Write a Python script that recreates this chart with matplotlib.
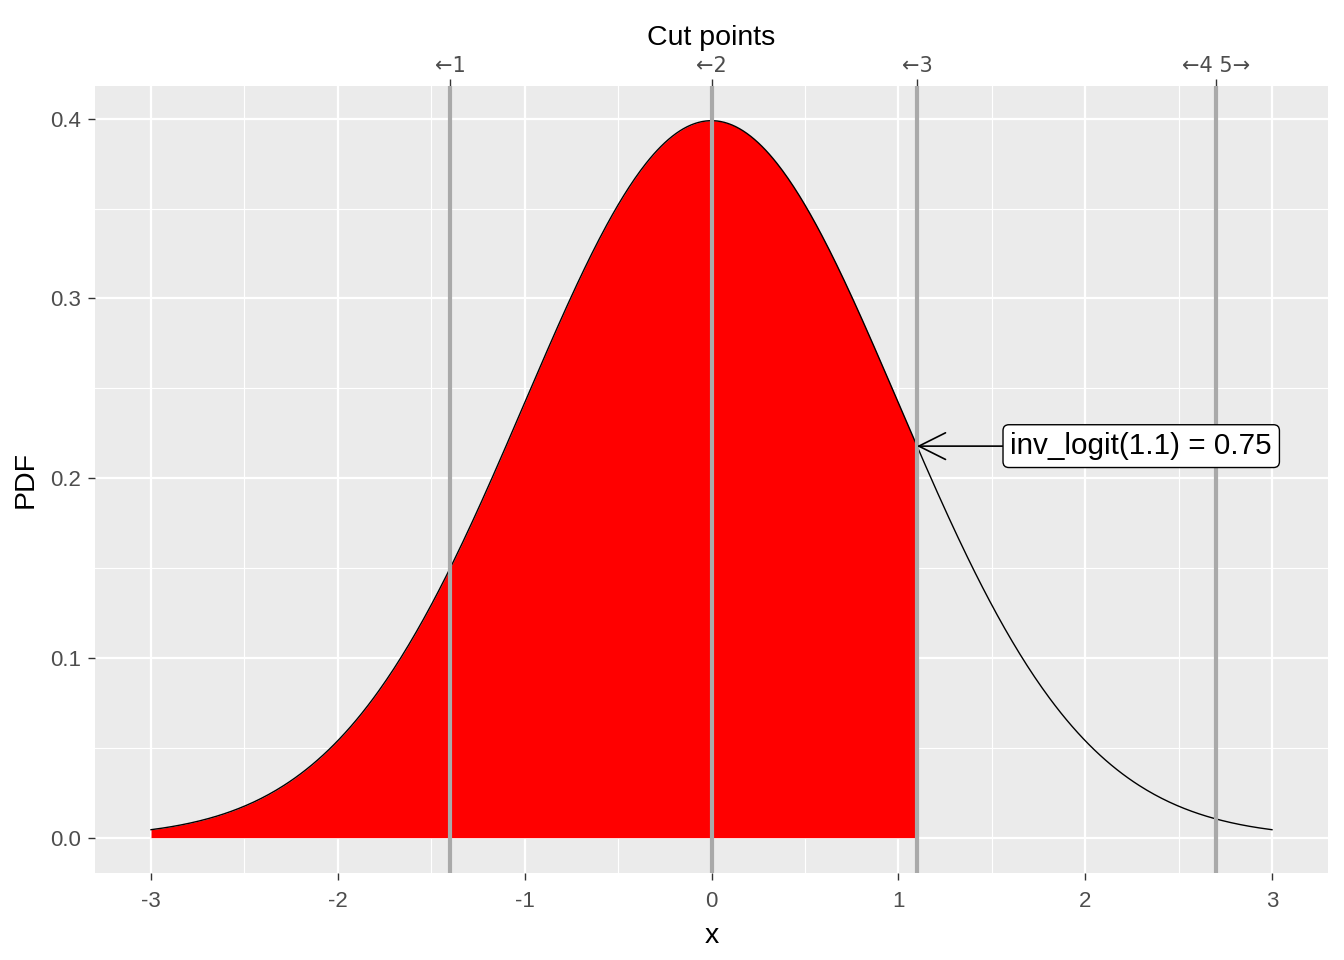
import matplotlib
matplotlib.use("Agg")
import matplotlib.pyplot as plt
import numpy as np

plt.rcParams['font.family'] = ['Liberation Sans', 'DejaVu Sans']

# distribution and cut points
mu = 0.0
sigma = 1.0
x_min, x_max = -3.0, 3.0
eta = 1.1
cut_points = [-1.4, 0.0, 1.1, 2.7]
cut_labels = ["\u21901", "\u21902", "\u21903", "\u21904 5\u2192"]
x_ticks = [-3, -2, -1, 0, 1, 2, 3]
y_ticks = [0.0, 0.1, 0.2, 0.3, 0.4]
annot_label = "inv_logit(1.1) = 0.75"


def dnorm(x):
    return np.exp(-0.5 * ((x - mu) / sigma) ** 2) / (sigma * np.sqrt(2 * np.pi))


xs = np.linspace(x_min, x_max, 601)
ys = dnorm(xs)
xf = np.linspace(x_min, eta, 500)
yf = dnorm(xf)

fig = plt.figure(figsize=(13.44, 9.6), dpi=100)
ax = fig.add_axes([95 / 1344, 87.3 / 960, (1328 - 95) / 1344, 787 / 960])
ax.set_facecolor("#EBEBEB")

ax.set_xlim(-3.3, 3.3)
ax.set_ylim(-0.0195, 0.4184)

# grid
for v in np.arange(-2.5, 3.0, 1.0):
    ax.axvline(v, color="white", lw=0.8, zorder=0)
for v in np.arange(0.05, 0.4, 0.1):
    ax.axhline(v, color="white", lw=0.8, zorder=0)
for v in x_ticks:
    ax.axvline(v, color="white", lw=1.6, zorder=0)
for v in y_ticks:
    ax.axhline(v, color="white", lw=1.6, zorder=0)

ax.fill_between(xf, 0, yf, color="red", lw=0, zorder=1)
ax.plot(xs, ys, color="black", lw=1.0, zorder=2)

for c in cut_points:
    ax.axvline(c, color="#A9A9A9", lw=3.0, zorder=3)

ax.annotate(annot_label, xy=(eta, dnorm(eta)), xytext=(1.6, dnorm(eta)),
            fontsize=21.3, ha="left", va="center",
            bbox=dict(boxstyle="round,pad=0.25,rounding_size=0.2", fc="white", ec="black", lw=1.0),
            arrowprops=dict(arrowstyle="->,head_length=0.9,head_width=0.45", color="black", lw=1.2,
                            shrinkA=0, shrinkB=0),
            zorder=5)

for s in ax.spines.values():
    s.set_visible(False)

ax.set_xticks(x_ticks)
ax.set_xticklabels([str(t) for t in x_ticks])
ax.set_yticks(y_ticks)
ax.set_yticklabels([f"{t:.1f}" for t in y_ticks])
ax.tick_params(axis="x", colors="#333333", length=5, width=1.0, labelsize=16,
               labelcolor="#4D4D4D", pad=8)
ax.tick_params(axis="y", colors="#333333", length=5, width=1.0, labelsize=16,
               labelcolor="#4D4D4D", pad=5)

ax.set_xlabel("x", fontsize=20.5, labelpad=8)
ax.set_ylabel("PDF", fontsize=20.5, labelpad=8)

top = ax.secondary_xaxis("top")
top.set_xticks(cut_points)
top.set_xticklabels(cut_labels, family=["DejaVu Sans"])
top.tick_params(colors="#333333", length=5, width=1.0, labelsize=15, labelcolor="#4D4D4D", pad=2)
top.spines["top"].set_visible(False)
top.set_xlabel("Cut points", fontsize=20.5, labelpad=8)

fig.savefig("out.png", dpi=100)
